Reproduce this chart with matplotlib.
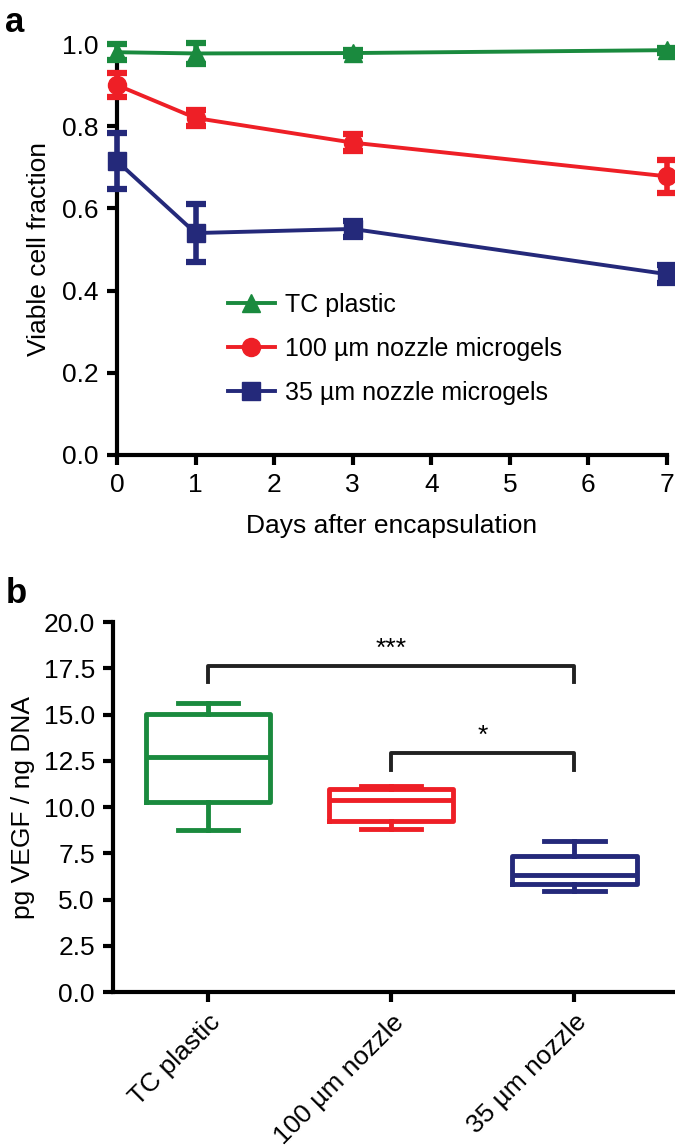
import matplotlib
matplotlib.use("Agg")
import matplotlib.pyplot as plt
from matplotlib.lines import Line2D

plt.rcParams['font.family'] = ['Liberation Sans', 'DejaVu Sans']

# ---------------- data ----------------
days = [0, 1, 3, 7]
tc_mean = [0.980, 0.977, 0.978, 0.985]
tc_err = [0.020, 0.025, 0.008, 0.006]
n100_mean = [0.900, 0.820, 0.760, 0.678]
n100_err = [0.030, 0.020, 0.020, 0.040]
n35_mean = [0.715, 0.540, 0.550, 0.440]
n35_err = [0.068, 0.070, 0.020, 0.022]
series_labels = ['TC plastic', '100 \u00b5m nozzle microgels', '35 \u00b5m nozzle microgels']

groups = ['TC plastic', '100 \u00b5m nozzle', '35 \u00b5m nozzle']
whislo = [8.78, 8.83, 5.47]
q1 = [10.28, 9.25, 5.82]
med = [12.72, 10.38, 6.35]
q3 = [15.03, 11.00, 7.37]
whishi = [15.62, 11.15, 8.17]

green = '#1a8a3e'
red = '#ee1f26'
navy = '#24297a'
cols = [green, red, navy]
fs = 19

fig = plt.figure(figsize=(6.75, 11.47), dpi=100)

###########################################
# panel a: viability over time
ax = fig.add_axes([117/675, 1-455/1147, 550/675, 411/1147])
specs = [(tc_mean, tc_err, '^', 13), (n100_mean, n100_err, 'o', 13), (n35_mean, n35_err, 's', 13)]
handles = []
for (m, e, mk, ms), c in zip(specs, cols):
  ax.errorbar(days, m, yerr=e, color=c, marker=mk, markersize=ms, lw=2.8,
              elinewidth=4, capsize=7, capthick=4.5, clip_on=False, zorder=3)
  handles.append(Line2D([], [], color=c, marker=mk, markersize=ms, lw=2.8))

ax.set_xlim(0, 7)
ax.set_ylim(0, 1.0)
ax.set_xticks(range(8))
ax.set_yticks([0, 0.2, 0.4, 0.6, 0.8, 1.0])
ax.set_yticklabels(['0.0', '0.2', '0.4', '0.6', '0.8', '1.0'])
ax.set_xlabel('Days after encapsulation', fontsize=fs, labelpad=12)
ax.set_ylabel('Viable cell fraction', fontsize=fs, labelpad=8)
for s in ['top', 'right']:
  ax.spines[s].set_visible(False)
for s in ['left', 'bottom']:
  ax.spines[s].set_linewidth(3)
ax.tick_params(width=3, length=7, labelsize=fs, pad=6)
ax.legend(handles, series_labels, loc='upper left', bbox_to_anchor=(0.16, 0.45), frameon=False,
          fontsize=18, handlelength=1.9, labelspacing=0.8, handletextpad=0.4)

fig.text(0.008, 0.995, 'a', fontsize=25, fontweight='bold', va='top')

###########################################
# panel b: VEGF box plot
bx = fig.add_axes([113/675, 1-992/1147, 562/675, 370/1147])
stats = []
for i in range(3):
  stats.append(dict(whislo=whislo[i], q1=q1[i], med=med[i], q3=q3[i], whishi=whishi[i], fliers=[]))
pos = [0, 1, 2]
bp = bx.bxp(stats, positions=pos, widths=0.68, showfliers=False, patch_artist=False)
for i, c in enumerate(cols):
  bp['boxes'][i].set(color=c, linewidth=3.5)
  bp['medians'][i].set(color=c, linewidth=3.5)
  for k in (2*i, 2*i+1):
    bp['whiskers'][k].set(color=c, linewidth=3.5)
    bp['caps'][k].set(color=c, linewidth=3.5)
    x0, x1 = bp['caps'][k].get_xdata()
    xc = (x0 + x1) / 2
    bp['caps'][k].set_xdata([xc - 0.165, xc + 0.165])

# significance brackets
def bracket(a, b, y, h, txt):
  bx.plot([a, a, b, b], [y - h, y, y, y - h], color='#222222', lw=2.8, clip_on=False)
  bx.text((a + b) / 2, y + 0.3, txt, ha='center', va='bottom', fontsize=fs)

bracket(0, 2, 17.6, 0.85, '***')
bracket(1, 2, 12.9, 0.9, '*')

bx.set_xlim(-0.52, 2.55)
bx.set_ylim(0, 20)
bx.set_yticks([0, 2.5, 5, 7.5, 10, 12.5, 15, 17.5, 20])
bx.set_yticklabels(['0.0', '2.5', '5.0', '7.5', '10.0', '12.5', '15.0', '17.5', '20.0'])
bx.set_xticks(pos)
bx.set_xticklabels(groups, rotation=45, ha='right', rotation_mode='anchor')
bx.set_ylabel('pg VEGF / ng DNA', fontsize=fs, labelpad=6)
for s in ['top', 'right']:
  bx.spines[s].set_visible(False)
for s in ['left', 'bottom']:
  bx.spines[s].set_linewidth(3)
bx.tick_params(width=3, length=7, labelsize=fs, pad=6)

fig.text(0.008, 0.497, 'b', fontsize=25, fontweight='bold', va='top')

fig.savefig('out.png', dpi=100)
